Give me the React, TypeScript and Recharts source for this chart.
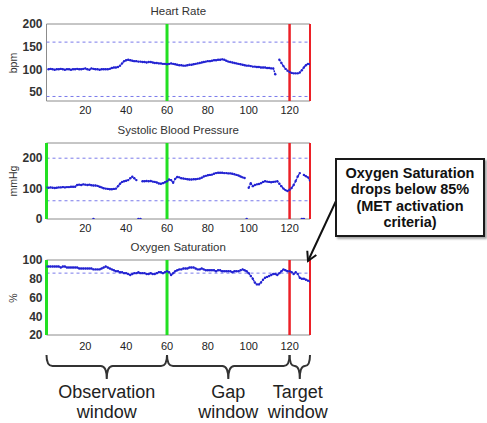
import React from 'react';
import { LineChart, Line, XAxis, YAxis, ReferenceLine, ReferenceArea } from 'recharts';

const FONT = '"Liberation Sans", Arial, Helvetica, sans-serif';

// x positions (minutes) 1..130
const xTicks = [20, 40, 60, 80, 100, 120];
const xDomain: [number, number] = [1, 130];

// Heart Rate (bpm), x = 1..130
const heartRate: (number | null)[] = [
  null, 100, 101, 100, 99, 100, 100, 101, 100, 99,
  100, 100, 99, 100, 100, 101, 100, 100, 101, 102,
  100, 99, 102, 101, 100, 100, 99, 100, 100, 100,
  100, 101, 103, 104, 104, 105, 108, 113, 118, 120,
  121, 120, 119, 118, 118, 117, 117, 116, 116, 115,
  116, 116, 115, 114, 114, 113, 113, 112, 112, 111,
  112, 113, 112, 111, 110, 109, 109, 108, 108, 109,
  110, 110, 111, 112, 113, 114, 115, 116, 117, 118,
  118, 119, 120, 120, 121, 121, 122, 121, 119, 117,
  116, 115, 114, 113, 112, 111, 110, 109, 108, 108,
  107, 106, 106, 105, 105, 104, 104, 104, 103, 103,
  102, 102, 89, null, 121, 114, 107, 101, 97, 94,
  92, 91, 91, 91, 93, 98, 104, 109, 112, 111,
];

// Systolic Blood Pressure (mmHg), x = 1..130
const systolic: (number | null)[] = [
  104, 103, 104, 103, 102, 103, 104, 104, 105, 104,
  105, 105, 106, 106, 106, 112, 113, 112, 114, 113,
  112, 113, 111, 110, 110, 109, 106, 104, 101, 100,
  99, 98, 98, 99, 100, 108, 116, 122, 124, 126,
  128, 134, 139, 134, 128, null, null, 124, 124, 125,
  124, 125, 123, 122, 120, 117, 116, 118, 121, 124,
  130, 128, 119, 132, 138, 137, 134, 133, 132, 131,
  130, 130, 131, 131, 132, 133, 136, 140, 142, 144,
  145, 146, 149, 151, 152, 152, 152, 151, 151, 150,
  150, 149, 147, 145, 143, 140, 137, 135, null, 103,
  118, 108, 112, 114, 115, 118, 122, 124, 123, 122,
  121, 122, 123, 124, 116, 108, 100, 95, 92, 96,
  102, 112, 125, 140, 151, null, 145, 141, 137, 127,
];
// x positions where the pressure reading dropped to 0
const systolicDropouts = [24, 46, 47, 99, 126, 127];

// Oxygen Saturation (%), x = 1..130
const spo2: (number | null)[] = [
  93, 93, 93, 93, 93, 93, 93, 92, 93, 93,
  92, 92, 92, 92, 92, 92, 91, 91, 91, 91,
  91, 91, 91, 90, 90, 90, 90, 91, 92, 93,
  92, 91, 90, 89, 88, 88, 87, 87, 86, 86,
  85, 84, 85, 86, 86, 87, 86, 86, 86, 85,
  85, 86, 85, 85, 86, 87, 87, 86, 87, 88,
  87, 84, 86, 88, 89, 90, 90, 91, 91, 91,
  92, 92, 92, 91, 90, 90, 91, 90, 89, 89,
  89, 89, 89, 88, 89, 89, 88, 88, 88, 88,
  88, 87, 88, 88, 88, 89, 90, 89, 88, 86,
  83, 80, 76, 74, 74, 76, 79, 81, 82, 83,
  84, 85, 85, 84, 86, 88, 90, 89, 88, 88,
  87, 85, 87, 85, 81, 80, 80, 79, 78, 77,
];

const windowBounds = [1, 60, 120, 130];
const windowLabels = [['Observation', 'window'], ['Gap', 'window'], ['Target', 'window']];

const rows = heartRate.map((_, i) => {
  const x = i + 1;
  return {
    x,
    hr: heartRate[i],
    sbp: systolic[i],
    sbp0: systolicDropouts.includes(x) ? 0 : null,
    spo2: spo2[i],
  };
});

const PLOT_LEFT = 46.5;
const PLOT_RIGHT = 310;
const xPos = (v: number) => PLOT_LEFT + ((v - xDomain[0]) / (xDomain[1] - xDomain[0])) * (PLOT_RIGHT - PLOT_LEFT);

const BLUE = '#2323d2';
const DASH = '#7a7aea';
const GREEN = '#22e022';
const RED = '#ec2027';

type PanelProps = {
  top: number;
  height: number;
  title: string;
  unit: string;
  dataKey: string;
  domain: [number, number];
  yTicks: number[];
  limits: number[];
  greens: number[];
  tickGap: number;
  extra?: React.ReactNode;
};

function Panel({ top, height, title, unit, dataKey, domain, yTicks, limits, greens, tickGap, extra }: PanelProps) {
  const plotTop = 24;
  const plotBottom = top + height - 20;
  return (
    <>
      <div style={{ position: 'absolute', left: PLOT_LEFT, width: PLOT_RIGHT - PLOT_LEFT, top: top + 5, textAlign: 'center', fontSize: 11.5, color: '#333', fontFamily: FONT }}>
        {title}
      </div>
      <div
        style={{
          position: 'absolute', left: 12.5, top: (top + plotTop + plotBottom) / 2, fontSize: 10.5, color: '#333', fontFamily: FONT,
          transform: 'translate(-50%, -50%) rotate(-90deg)', whiteSpace: 'nowrap',
        }}
      >
        {unit}
      </div>
      <div style={{ position: 'absolute', left: 0, top }}>
        <LineChart width={320} height={height} data={rows} margin={{ top: plotTop, right: 10, bottom: 0, left: 0.5 }}>
          <XAxis
            dataKey="x" type="number" domain={xDomain} ticks={xTicks} allowDataOverflow interval={0}
            axisLine={false} tickLine={false} tickSize={0} tickMargin={tickGap} height={20}
            tick={{ fontSize: 11, fill: '#222', fontFamily: FONT }}
          />
          <YAxis
            type="number" domain={domain} ticks={yTicks} allowDataOverflow width={46} interval={0}
            axisLine={false} tickLine={false} tickSize={0} tickMargin={4}
            tick={{ fontSize: 12, fontWeight: 'bold', fill: '#333', fontFamily: FONT }}
          />
          <ReferenceArea x1={xDomain[0]} x2={xDomain[1]} y1={domain[0]} y2={domain[1]} fill="#fff" fillOpacity={1} stroke="#8c8c8c" strokeWidth={1} />
          {limits.map((v) => (
            <ReferenceLine key={v} y={v} stroke={DASH} strokeDasharray="3 3" strokeWidth={1} />
          ))}
          <Line dataKey={dataKey} stroke={BLUE} strokeWidth={1.4} strokeDasharray="2 0.6" dot={{ r: 1.2, fill: BLUE, stroke: 'none' }} connectNulls={false} isAnimationActive={false} />
          {extra}
          {greens.map((v) => (
            <ReferenceLine key={'g' + v} x={v} stroke={GREEN} strokeWidth={3} />
          ))}
          <ReferenceLine x={120} stroke={RED} strokeWidth={2.5} />
          <ReferenceLine x={130} stroke={RED} strokeWidth={2} />
        </LineChart>
      </div>
    </>
  );
}

function Brace({ a, b }: { a: number; b: number }) {
  const xa = xPos(a);
  const xb = xPos(b);
  const xm = (xa + xb) / 2;
  const y0 = 355;
  const y1 = 366;
  const y2 = 379;
  const r = Math.min(6, (xb - xa) / 4);
  const d = `M ${xa} ${y0} Q ${xa} ${y1} ${xa + r} ${y1} L ${xm - r} ${y1} Q ${xm} ${y1} ${xm} ${y2} Q ${xm} ${y1} ${xm + r} ${y1} L ${xb - r} ${y1} Q ${xb} ${y1} ${xb} ${y0}`;
  return <path d={d} fill="none" stroke="#333" strokeWidth={2} />;
}

export default function App() {
  return (
    <div style={{ position: 'absolute', left: 0, top: 0, width: 487, height: 423, background: '#fff', overflow: 'hidden', fontFamily: FONT }}>
      <Panel top={0} height={121} title="Heart Rate" unit="bpm" dataKey="hr" domain={[30, 200]} yTicks={[50, 100, 150, 200]} limits={[160, 40]} greens={[60]} tickGap={5} />
      <Panel
        top={119} height={120} title="Systolic Blood Pressure" unit="mmHg" dataKey="sbp" domain={[0, 250]} yTicks={[0, 100, 200]} limits={[200, 60]} greens={[1, 60]} tickGap={5}
        extra={<Line dataKey="sbp0" stroke="none" dot={{ r: 1.3, fill: BLUE, stroke: 'none' }} isAnimationActive={false} />}
      />
      <Panel top={236} height={119} title="Oxygen Saturation" unit="%" dataKey="spo2" domain={[20, 100]} yTicks={[20, 40, 60, 80, 100]} limits={[86]} greens={[1, 60]} tickGap={7} />

      <svg width={487} height={423} style={{ position: 'absolute', left: 0, top: 0, pointerEvents: 'none' }}>
        <defs>
          <marker id="arrowhead" markerWidth="12" markerHeight="12" refX="10" refY="6" orient="auto" markerUnits="userSpaceOnUse">
            <path d="M 1 1 L 10 6 L 1 11" fill="none" stroke="#111" strokeWidth={2} />
          </marker>
        </defs>
        {windowBounds.slice(0, -1).map((a, i) => (
          <Brace key={a} a={a} b={windowBounds[i + 1]} />
        ))}
        {windowLabels.map((lines, i) => {
          const cx = (xPos(windowBounds[i]) + xPos(windowBounds[i + 1])) / 2;
          return (
            <text key={lines[0]} textAnchor="middle" fontSize={18} fill="#222" fontFamily={FONT}>
              <tspan x={i === 2 ? cx - 2 : cx} y={398}>{lines[0]}</tspan>
              <tspan x={i === 2 ? cx - 2 : cx} y={418}>{lines[1]}</tspan>
            </text>
          );
        })}
        <line x1={336} y1={201} x2={308} y2={261} stroke="#111" strokeWidth={2} markerEnd="url(#arrowhead)" />
      </svg>

      <div
        style={{
          position: 'absolute', left: 335, top: 158, width: 150, height: 79, boxSizing: 'border-box',
          border: '2px solid #1a1a1a', background: '#fff', boxShadow: '2px 2px 2px rgba(0,0,0,0.35)',
          display: 'flex', flexDirection: 'column', justifyContent: 'center', alignItems: 'center',
          fontSize: 14.5, fontWeight: 'bold', lineHeight: '16.3px', color: '#111', textAlign: 'center',
        }}
      >
        <div>Oxygen Saturation</div>
        <div>drops below 85%</div>
        <div>(MET activation</div>
        <div>criteria)</div>
      </div>
    </div>
  );
}
